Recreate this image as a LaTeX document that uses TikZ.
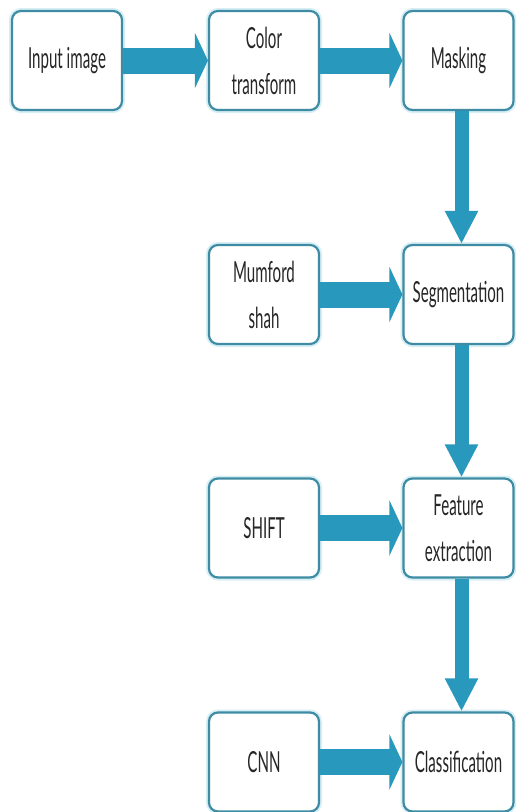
\documentclass[tikz,border=0pt]{standalone}
\usepackage{fontspec}
\setmainfont{Lato}[FakeStretch=0.52]
\usetikzlibrary{arrows.meta}
\definecolor{arrc}{RGB}{40,152,188}
\definecolor{boxc}{RGB}{62,140,164}
\definecolor{glowc}{RGB}{215,238,244}
\begin{document}
\begin{tikzpicture}[x=1pt,y=-1pt,
  box/.style={draw=boxc, line width=2.2pt, rounded corners=9pt, fill=white,
    minimum width=110pt, minimum height=99pt, align=center, inner sep=0pt,
    font=\fontsize{29}{46}\selectfont, text=black!85,
    preaction={draw=glowc, line width=6pt}},
  hflow/.style={arrc, line width=26pt, -{Triangle[width=55pt,length=13pt]}},
  vflow/.style={arrc, line width=14pt, -{Triangle[width=31pt,length=33pt]}}]
\useasboundingbox (0,0) rectangle (515,812);
% row 1
\node[box] (in) at (67,60.5) {Input image};
\node[box] (ct) at (264,60.5) {Color\\transform};
\node[box] (ms) at (458.5,60.5) {Masking};
% row 2
\node[box] (mu) at (264,294.5) {Mumford\\shah};
\node[box] (sg) at (458.5,294.5) {Segmentation};
% row 3
\node[box] (sh) at (264,528) {SHIFT};
\node[box] (fe) at (458.5,528) {Feature\\extraction};
% row 4
\node[box] (cn) at (264,762) {CNN};
\node[box] (cl) at (458.5,762) {Classification};
% connectors
\draw[hflow] (in) -- (ct);
\draw[hflow] (ct) -- (ms);
\draw[hflow] (mu) -- (sg);
\draw[hflow] (sh) -- (fe);
\draw[hflow] (cn) -- (cl);
\draw[vflow] ([xshift=3pt]ms.south) -- ([xshift=3pt]sg.north);
\draw[vflow] ([xshift=3pt]sg.south) -- ([xshift=3pt]fe.north);
\draw[vflow] ([xshift=3pt]fe.south) -- ([xshift=3pt]cl.north);
\end{tikzpicture}
\end{document}
